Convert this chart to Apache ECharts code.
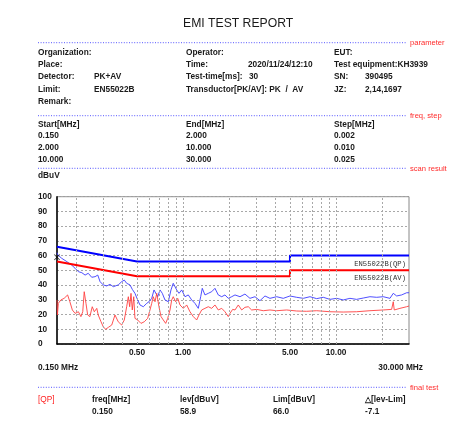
<!DOCTYPE html>
<html>
<head>
<meta charset="utf-8">
<script src="https://cdn.jsdelivr.net/npm/echarts@6/dist/echarts.min.js"></script>
<style>html,body{margin:0;padding:0;background:#fff}#c{width:466px;height:435px}</style>
</head>
<body>
<div id="c"></div>
<script>
// ---- data ----
const pkFreq = [0.150,0.152,0.161,0.174,0.187,0.197,0.207,0.218,0.229,0.240,0.253,0.266,0.277,0.287,0.301,0.317,0.333,0.350,0.377,0.397,0.413,0.428,0.450,0.466,0.485,0.505,0.523,0.550,0.579,0.599,0.624,0.646,0.663,0.683,0.707,0.732,0.762,0.801,0.834,0.863,0.886,0.909,0.941,0.980,1.030,1.082,1.139,1.197,1.258,1.304,1.336,1.391,1.462,1.539,1.617,1.700,1.790,1.880,1.976,2.080,2.186,2.357,2.540,2.738,2.953,3.183,3.432,3.700,4.093,4.521,5.000,5.530,6.108,6.756,7.473,8.255,9.128,10.10,11.15,12.33,13.64,15.07,16.67,18.44,20.36,22.52,23.67,24.92,26.85,28.95,30.00];
const pkLevel = [62.0,60.4,58.2,55.9,53.6,51.4,49.1,48.4,46.8,48.0,45.3,45.7,46.8,42.3,40.1,39.4,40.5,38.9,40.1,42.3,43.4,41.2,40.1,37.1,34.4,29.9,26.5,25.3,27.6,28.7,31.0,36.7,37.8,32.1,36.7,34.4,29.9,28.7,36.7,41.2,42.3,36.7,34.4,36.7,32.1,33.3,29.9,27.6,24.2,32.1,37.8,33.3,34.4,35.5,37.8,33.3,32.1,33.3,31.0,32.1,33.3,32.1,33.9,31.0,32.1,29.4,32.6,31.0,32.1,31.0,32.6,31.7,31.0,32.1,30.8,31.7,30.3,31.0,29.9,31.0,30.3,31.2,32.1,31.7,32.1,31.0,34.4,32.6,33.3,34.8,34.8];
const avFreq = [0.150,0.151,0.153,0.159,0.167,0.176,0.182,0.189,0.197,0.207,0.215,0.221,0.226,0.232,0.238,0.246,0.255,0.263,0.273,0.279,0.291,0.301,0.312,0.325,0.342,0.359,0.368,0.377,0.397,0.413,0.428,0.439,0.448,0.457,0.466,0.476,0.485,0.505,0.531,0.558,0.587,0.608,0.624,0.639,0.656,0.673,0.696,0.718,0.743,0.770,0.794,0.822,0.843,0.863,0.895,0.923,0.955,1.004,1.056,1.110,1.167,1.228,1.271,1.324,1.391,1.462,1.539,1.617,1.700,1.790,1.880,1.976,2.027,2.110,2.186,2.297,2.418,2.540,2.670,2.809,3.030,3.345,3.700,4.093,4.757,5.530,6.428,7.473,9.128,11.15,13.64,16.67,20.36,23.10,23.67,24.03,26.18,28.95,30.00];
const avLevel = [29.9,19.7,27.6,29.9,31.0,33.3,28.7,23.1,20.8,21.9,18.6,21.9,35.5,27.6,19.7,18.6,25.3,21.9,24.2,19.7,15.1,11.7,10.0,11.3,12.9,19.7,18.6,15.1,12.9,16.3,25.3,32.1,25.3,34.4,23.1,32.1,17.4,16.3,14.0,15.1,17.4,23.1,27.6,32.1,28.7,34.4,25.3,18.6,16.3,14.0,17.4,23.1,29.9,32.1,28.7,31.0,26.5,24.2,26.5,21.9,18.6,16.3,19.7,23.1,24.2,25.3,24.2,26.5,23.1,24.2,21.9,18.6,20.8,23.5,23.1,26.5,23.1,24.9,25.3,23.1,23.5,22.6,23.1,22.6,23.1,22.4,22.2,22.6,21.9,21.7,21.9,22.6,23.1,23.5,28.7,23.1,24.2,25.3,25.8];
const qpLimitFreq = [0.15, 0.5, 5, 5, 30];
const qpLimitLevel = [66, 56, 56, 60, 60];
const avLimitFreq = [0.15, 0.5, 5, 5, 30];
const avLimitLevel = [56, 46, 46, 50, 50];
const markerFreq = [0.150];
const markerLevel = [58.9];
const gridFreqs = [0.2,0.3,0.4,0.5,0.6,0.7,0.8,0.9,1,2,3,4,5,6,7,8,9,10,20];
const xTickFreqs = [0.5, 1, 5, 10];
const xTickLabels = ['0.50', '1.00', '5.00', '10.00'];
const yTicks = [0,10,20,30,40,50,60,70,80,90,100];
const finalHeaders = ['freq[MHz]', 'lev[dBuV]', 'Lim[dBuV]', '\u25B3[lev-Lim]'];
const finalValues = ['0.150', '58.9', '66.0', '-7.1'];

const zip = (a, b) => a.map((v, i) => [v, b[i]]);

// ---- text helpers ----
const FONT = '"Liberation Sans", Arial, sans-serif';
function txt(x, y, s, o) {
  o = o || {};
  return {
    type: 'text', silent: true,
    style: {
      text: s, x: x, y: y,
      font: (o.weight || 'bold') + ' ' + (o.size || 8.3) + 'px ' + FONT,
      fill: o.fill || '#1a1a1a',
      align: o.align || 'left', verticalAlign: 'middle'
    }
  };
}
function sep(y, label) {
  return [
    { type: 'line', silent: true, shape: { x1: 38, y1: y, x2: 407, y2: y },
      style: { stroke: '#5555ff', lineWidth: 1, lineDash: [1, 1.6] } },
    txt(410, y + 0.5, label, { weight: 'normal', size: 7.6, fill: '#ff2a2a' })
  ];
}

const graphic = [].concat(
  sep(42.7, 'parameter'),
  [
    txt(38, 52.3, 'Organization:'), txt(186, 52.3, 'Operator:'), txt(334, 52.3, 'EUT:'),
    txt(38, 64.5, 'Place:'), txt(186, 64.5, 'Time:'), txt(248, 64.5, '2020/11/24/12:10'), txt(334, 64.5, 'Test equipment:KH3939'),
    txt(38, 77, 'Detector:'), txt(94, 77, 'PK+AV'), txt(186, 77, 'Test-time[ms]:'), txt(249, 77, '30'), txt(334, 77, 'SN:'), txt(365, 77, '390495'),
    txt(38, 89.3, 'Limit:'), txt(94, 89.3, 'EN55022B'), txt(186, 89.3, 'Transductor[PK/AV]: PK  /  AV'), txt(334, 89.3, 'JZ:'), txt(365, 89.3, '2,14,1697'),
    txt(38, 101.7, 'Remark:')
  ],
  sep(115.7, 'freq, step'),
  [
    txt(38, 124.3, 'Start[MHz]'), txt(186, 124.3, 'End[MHz]'), txt(334, 124.3, 'Step[MHz]'),
    txt(38, 135.8, '0.150'), txt(186, 135.8, '2.000'), txt(334, 135.8, '0.002'),
    txt(38, 147.8, '2.000'), txt(186, 147.8, '10.000'), txt(334, 147.8, '0.010'),
    txt(38, 160, '10.000'), txt(186, 160, '30.000'), txt(334, 160, '0.025')
  ],
  sep(168.3, 'scan result'),
  [
    txt(38, 175.8, 'dBuV'),
    txt(38, 367.5, '0.150 MHz'),
    txt(423, 367.5, '30.000 MHz', { align: 'right' })
  ],
  sep(387.3, 'final test'),
  [ txt(38, 399.5, '[QP]', { weight: 'normal', fill: '#ff2020' }) ],
  finalHeaders.map((h, i) => txt([92, 180, 273, 365][i], 399.5, h)),
  finalValues.map((v, i) => txt([92, 180, 273, 365][i], 412, v))
);

const chart = echarts.init(document.getElementById('c'), null, { renderer: 'canvas' });
chart.setOption({
  animation: false,
  backgroundColor: '#fff',
  title: {
    text: 'EMI TEST REPORT', left: 178, top: 13,
    textStyle: { fontFamily: FONT, fontSize: 12.2, fontWeight: 'normal', color: '#1a1a1a' }
  },
  grid: { left: 57, right: 57, top: 196.7, bottom: 91, show: true, borderColor: '#888', borderWidth: 1 },
  xAxis: {
    type: 'log', logBase: 10, min: 0.15, max: 30,
    axisLine: { show: true, lineStyle: { color: '#000', width: 1.5 } },
    axisTick: { show: false }, axisLabel: { show: false },
    splitLine: { show: false }, minorSplitLine: { show: false }
  },
  yAxis: {
    type: 'value', min: yTicks[0], max: yTicks[yTicks.length - 1], interval: 10,
    axisLine: { show: true, lineStyle: { color: '#000', width: 1.5 } },
    axisTick: { show: false },
    axisLabel: { align: 'left', margin: 19, fontFamily: FONT, fontSize: 8.3, fontWeight: 'bold', color: '#1a1a1a' },
    splitLine: { show: true, lineStyle: { color: '#a8a8a8', type: [2, 2], width: 1 } }
  },
  graphic: graphic,
  series: [
    {
      name: 'grid', type: 'line', data: [], silent: true,
      markLine: {
        silent: true, symbol: ['none', 'none'], animation: false,
        lineStyle: { color: '#a8a8a8', type: [2, 2], width: 1 },
        label: { show: false },
        data: gridFreqs.map(f => {
          const k = xTickFreqs.indexOf(f);
          const item = { xAxis: f };
          if (k >= 0) item.label = {
            show: true, position: 'start', distance: 5, formatter: xTickLabels[k],
            fontFamily: FONT, fontSize: 8.3, fontWeight: 'bold', color: '#1a1a1a'
          };
          return item;
        })
      }
    },
    {
      name: 'PK', type: 'line', data: zip(pkFreq, pkLevel), showSymbol: false,
      lineStyle: { color: '#3b3bff', width: 0.9 }, itemStyle: { color: '#3b3bff' }
    },
    {
      name: 'AV', type: 'line', data: zip(avFreq, avLevel), showSymbol: false,
      lineStyle: { color: '#ff4040', width: 0.9 }, itemStyle: { color: '#ff4040' }
    },
    {
      name: 'EN55022B(QP)', type: 'line', data: zip(qpLimitFreq, qpLimitLevel), showSymbol: false,
      lineStyle: { color: '#0000ff', width: 2 }, itemStyle: { color: '#0000ff' },
      endLabel: { show: true, formatter: 'EN55022B(QP)', align: 'right', verticalAlign: 'middle', distance: 0, offset: [-3, 8],
        fontFamily: '"Liberation Mono", monospace', fontSize: 7.2, color: '#333' }
    },
    {
      name: 'EN55022B(AV)', type: 'line', data: zip(avLimitFreq, avLimitLevel), showSymbol: false,
      lineStyle: { color: '#ff0000', width: 2 }, itemStyle: { color: '#ff0000' },
      endLabel: { show: true, formatter: 'EN55022B(AV)', align: 'right', verticalAlign: 'middle', distance: 0, offset: [-3, 8],
        fontFamily: '"Liberation Mono", monospace', fontSize: 7.2, color: '#333' }
    },
    {
      name: 'marker', type: 'scatter', data: zip(markerFreq, markerLevel),
      symbol: 'path://M0,1L1,0L5,4L9,0L10,1L6,5L10,9L9,10L5,6L1,10L0,9L4,5Z',
      symbolSize: 6, itemStyle: { color: '#000' }, z: 5
    }
  ]
});
</script>
</body>
</html>
